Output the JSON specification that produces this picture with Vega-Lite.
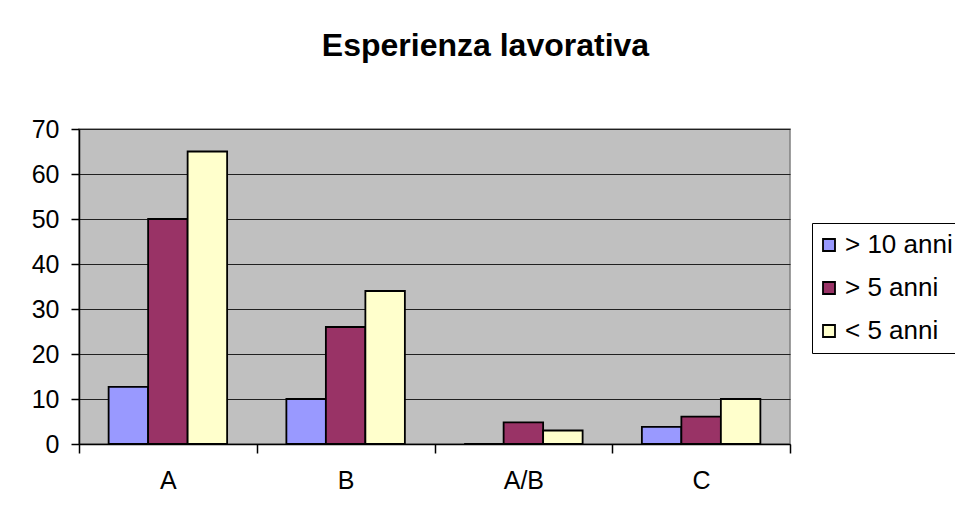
{
  "$schema": "https://vega.github.io/schema/vega-lite/v6.json",
  "autosize": "none",
  "width": 711,
  "height": 315,
  "padding": {"left": 79, "top": 129, "right": 165, "bottom": 75},
  "background": "white",
  "title": {
    "text": "Esperienza lavorativa",
    "font": "Liberation Sans",
    "fontSize": 32,
    "fontWeight": "bold",
    "color": "black",
    "anchor": "middle",
    "frame": "group",
    "dx": 51,
    "offset": 54
  },
  "data": {
    "values": [
      {"cat": "A", "serie": "> 10 anni", "v": 12.7},
      {"cat": "A", "serie": "> 5 anni", "v": 50},
      {"cat": "A", "serie": "< 5 anni", "v": 65},
      {"cat": "B", "serie": "> 10 anni", "v": 10},
      {"cat": "B", "serie": "> 5 anni", "v": 26},
      {"cat": "B", "serie": "< 5 anni", "v": 34},
      {"cat": "A/B", "serie": "> 10 anni", "v": 0},
      {"cat": "A/B", "serie": "> 5 anni", "v": 4.8},
      {"cat": "A/B", "serie": "< 5 anni", "v": 3},
      {"cat": "C", "serie": "> 10 anni", "v": 3.8},
      {"cat": "C", "serie": "> 5 anni", "v": 6.1},
      {"cat": "C", "serie": "< 5 anni", "v": 10}
    ]
  },
  "mark": {"type": "bar", "stroke": "black", "strokeWidth": 1.8},
  "encoding": {
    "x": {
      "field": "cat",
      "type": "nominal",
      "sort": ["A", "B", "A/B", "C"],
      "scale": {"paddingInner": 0, "paddingOuter": 0},
      "axis": {
        "title": null,
        "labelAngle": 0,
        "labelFont": "Liberation Sans",
        "labelFontSize": 25,
        "labelColor": "black",
        "domainColor": "black",
        "domainWidth": 1.5,
        "tickColor": "black",
        "tickWidth": 1.5,
        "tickSize": 9,
        "tickBand": "extent",
        "labelPadding": 15
      }
    },
    "xOffset": {
      "field": "serie",
      "type": "nominal",
      "sort": ["> 10 anni", "> 5 anni", "< 5 anni"],
      "scale": {"paddingInner": 0, "paddingOuter": 0.75}
    },
    "y": {
      "field": "v",
      "type": "quantitative",
      "scale": {"domain": [0, 70], "nice": false},
      "axis": {
        "title": null,
        "values": [0, 10, 20, 30, 40, 50, 60, 70],
        "labelFont": "Liberation Sans",
        "labelFontSize": 25,
        "labelColor": "black",
        "domainColor": "black",
        "domainWidth": 1.5,
        "tickColor": "black",
        "tickWidth": 1.5,
        "tickSize": 8,
        "labelPadding": 12,
        "grid": true,
        "gridColor": "#202020",
        "gridWidth": 1.2
      }
    },
    "color": {
      "field": "serie",
      "type": "nominal",
      "sort": ["> 10 anni", "> 5 anni", "< 5 anni"],
      "scale": {
        "domain": ["> 10 anni", "> 5 anni", "< 5 anni"],
        "range": ["#9999FF", "#993366", "#FFFFCC"]
      },
      "legend": {
        "title": null,
        "orient": "none",
        "legendX": 733,
        "legendY": 94,
        "symbolType": "square",
        "symbolSize": 144,
        "symbolStrokeColor": "black",
        "symbolStrokeWidth": 1.8,
        "symbolOpacity": 1,
        "symbolOffset": -5,
        "labelFont": "Liberation Sans",
        "labelFontSize": 26,
        "labelColor": "black",
        "labelOffset": 3,
        "rowPadding": 17,
        "padding": 9,
        "strokeColor": "black",
        "fillColor": "white",
        "labelLimit": 300
      }
    }
  },
  "config": {
    "view": {"fill": "#C0C0C0", "stroke": "#808080", "strokeWidth": 1.5}
  }
}
